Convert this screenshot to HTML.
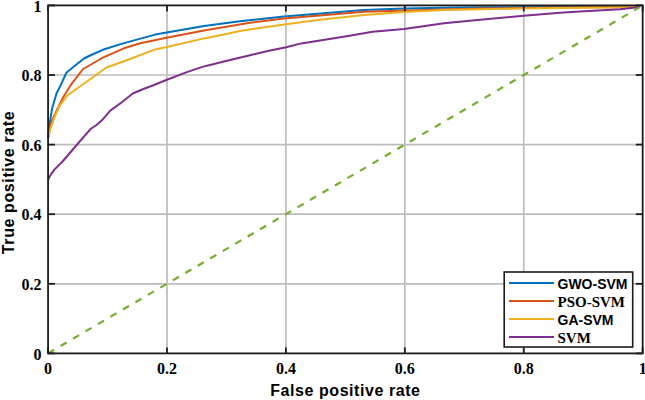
<!DOCTYPE html>
<html><head><meta charset="utf-8"><style>
html,body{margin:0;padding:0;background:#fff;}
svg{display:block;}
</style></head><body>
<svg width="645" height="400" viewBox="0 0 645 400">
<rect width="645" height="400" fill="#fff"/>
<g stroke="#bdbdbd" stroke-width="1.7" fill="none"><line x1="166.99" y1="5.40" x2="166.99" y2="353.40"/><line x1="48.07" y1="283.80" x2="642.67" y2="283.80"/><line x1="285.91" y1="5.40" x2="285.91" y2="353.40"/><line x1="48.07" y1="214.20" x2="642.67" y2="214.20"/><line x1="404.83" y1="5.40" x2="404.83" y2="353.40"/><line x1="48.07" y1="144.60" x2="642.67" y2="144.60"/><line x1="523.75" y1="5.40" x2="523.75" y2="353.40"/><line x1="48.07" y1="75.00" x2="642.67" y2="75.00"/></g>
<g fill="none" stroke-width="2" stroke-linejoin="round">
<polyline points="48.10,138.00 49.00,127.50 52.10,108.50 56.50,93.50 60.70,85.10 66.50,72.50 74.00,66.50 84.00,58.50 90.00,55.50 102.75,49.80 124.00,43.10 155.25,34.60 204.00,26.00 240.00,21.20 284.00,16.40 364.00,10.10 404.00,8.50 444.00,7.75 480.00,7.30 560.00,7.10 640.00,7.00" stroke="#0072BD"/>
<polyline points="48.10,138.00 50.00,127.50 52.30,120.00 57.50,108.75 63.50,96.70 71.90,83.30 83.10,69.00 98.00,60.50 102.75,57.70 124.00,48.30 140.25,43.30 166.50,37.70 204.00,30.40 250.00,22.80 284.00,18.60 364.00,11.70 444.00,9.40 480.00,8.50 560.00,7.60 640.00,7.00" stroke="#D95319"/>
<polyline points="48.10,138.00 50.90,127.50 55.00,116.00 59.50,106.00 61.00,104.00 66.50,96.30 68.00,95.00 106.50,67.50 124.00,61.20 155.25,49.40 166.90,47.00 204.00,38.40 225.00,34.20 240.00,31.00 256.00,28.40 284.00,24.60 320.00,19.80 364.00,15.00 404.00,12.00 444.00,10.10 480.00,9.20 520.00,8.50 580.00,7.70 640.00,7.00" stroke="#EDB120"/>
<polyline points="48.10,179.75 50.90,174.40 54.60,169.40 62.75,161.25 77.75,143.75 85.90,134.40 90.90,128.75 96.50,125.00 102.75,119.40 110.25,110.60 121.50,102.50 132.75,93.50 144.00,88.75 154.00,85.00 166.90,79.75 187.50,71.90 204.00,66.40 210.00,65.00 230.00,60.00 250.00,55.20 271.25,50.20 286.25,47.20 301.25,43.40 320.00,40.50 345.00,36.60 364.00,33.30 372.50,31.80 404.00,29.10 444.00,23.20 480.00,19.80 523.75,15.70 560.00,12.70 580.00,11.50 620.00,9.20 640.00,7.00" stroke="#7E2F8E"/>
<line x1="48.1" y1="353.3" x2="640" y2="7" stroke="#77AC30" stroke-width="2.2" stroke-dasharray="7 7.45"/>
</g>
<g stroke="#1c1c1c" stroke-width="1.8" fill="none"><line x1="48.07" y1="353.40" x2="48.07" y2="347.40"/><line x1="48.07" y1="5.40" x2="48.07" y2="11.40"/><line x1="48.07" y1="353.40" x2="54.97" y2="353.40"/><line x1="642.67" y1="353.40" x2="635.77" y2="353.40"/><line x1="166.99" y1="353.40" x2="166.99" y2="347.40"/><line x1="166.99" y1="5.40" x2="166.99" y2="11.40"/><line x1="48.07" y1="283.80" x2="54.97" y2="283.80"/><line x1="642.67" y1="283.80" x2="635.77" y2="283.80"/><line x1="285.91" y1="353.40" x2="285.91" y2="347.40"/><line x1="285.91" y1="5.40" x2="285.91" y2="11.40"/><line x1="48.07" y1="214.20" x2="54.97" y2="214.20"/><line x1="642.67" y1="214.20" x2="635.77" y2="214.20"/><line x1="404.83" y1="353.40" x2="404.83" y2="347.40"/><line x1="404.83" y1="5.40" x2="404.83" y2="11.40"/><line x1="48.07" y1="144.60" x2="54.97" y2="144.60"/><line x1="642.67" y1="144.60" x2="635.77" y2="144.60"/><line x1="523.75" y1="353.40" x2="523.75" y2="347.40"/><line x1="523.75" y1="5.40" x2="523.75" y2="11.40"/><line x1="48.07" y1="75.00" x2="54.97" y2="75.00"/><line x1="642.67" y1="75.00" x2="635.77" y2="75.00"/><line x1="642.67" y1="353.40" x2="642.67" y2="347.40"/><line x1="642.67" y1="5.40" x2="642.67" y2="11.40"/><line x1="48.07" y1="5.40" x2="54.97" y2="5.40"/><line x1="642.67" y1="5.40" x2="635.77" y2="5.40"/>
<rect x="48.07" y="5.40" width="594.60" height="348.00"/>
</g>
<g font-family="'Liberation Serif', serif" font-weight="bold" font-size="16" fill="#000"><text x="48.07" y="374.4" text-anchor="middle">0</text><text x="41.6" y="359.60" text-anchor="end">0</text><text x="166.99" y="374.4" text-anchor="middle">0.2</text><text x="41.6" y="290.00" text-anchor="end">0.2</text><text x="285.91" y="374.4" text-anchor="middle">0.4</text><text x="41.6" y="220.40" text-anchor="end">0.4</text><text x="404.83" y="374.4" text-anchor="middle">0.6</text><text x="41.6" y="150.80" text-anchor="end">0.6</text><text x="523.75" y="374.4" text-anchor="middle">0.8</text><text x="41.6" y="81.20" text-anchor="end">0.8</text><text x="642.67" y="374.4" text-anchor="middle">1</text><text x="41.6" y="11.60" text-anchor="end">1</text></g>
<text x="345.4" y="395.7" text-anchor="middle" font-family="'Liberation Sans', sans-serif" font-weight="bold" font-size="16" letter-spacing="0.56" fill="#000">False positive rate</text>
<text transform="translate(13.6,182.5) rotate(-90)" text-anchor="middle" font-family="'Liberation Sans', sans-serif" font-weight="bold" font-size="16" letter-spacing="0.6" fill="#000">True positive rate</text>
<g>
<rect x="504.2" y="272" width="128.5" height="75" fill="#fff" stroke="#1c1c1c" stroke-width="1.6"/>
<g stroke-width="2">
<line x1="509" y1="283" x2="554" y2="283" stroke="#0072BD"/>
<line x1="509" y1="301" x2="554" y2="301" stroke="#D95319"/>
<line x1="509" y1="319" x2="554" y2="319" stroke="#EDB120"/>
<line x1="509" y1="337" x2="554" y2="337" stroke="#7E2F8E"/>
</g>
<text x="557.5" y="288.8" font-family="'Liberation Sans', sans-serif" font-weight="bold" font-size="14">GWO-SVM</text>
<text x="557.5" y="306.7" font-family="'Liberation Serif', serif" font-weight="bold" font-size="15">PSO-SVM</text>
<text x="557.5" y="324.8" font-family="'Liberation Sans', sans-serif" font-weight="bold" font-size="14">GA-SVM</text>
<text x="557.5" y="342.7" font-family="'Liberation Serif', serif" font-weight="bold" font-size="15">SVM</text>
</g>
</svg>
</body></html>
